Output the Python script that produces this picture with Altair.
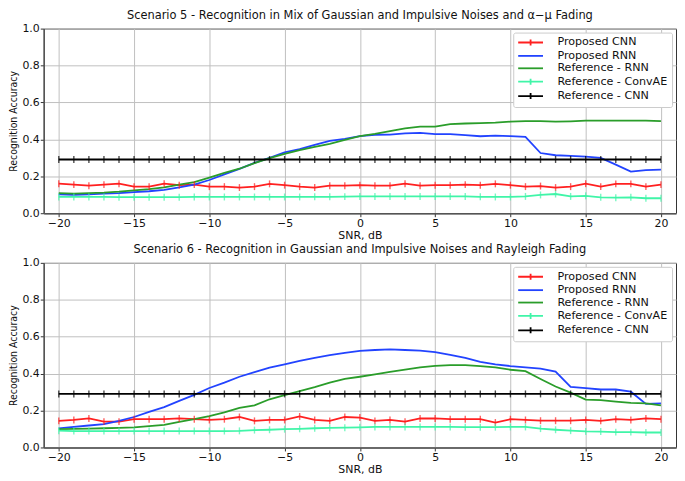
import altair as alt
import pandas as pd

snr = list(range(-20, 21))
series_names = ["Proposed CNN", "Proposed RNN", "Reference - RNN",
                "Reference - ConvAE", "Reference - CNN"]
series_colors = ["#ff2020", "#2243ff", "#2a9d2a", "#40f5a8", "#000000"]
marked_series = ["Proposed CNN", "Reference - ConvAE", "Reference - CNN"]
x_ticks = [-20, -15, -10, -5, 0, 5, 10, 15, 20]
y_ticks = [0.0, 0.2, 0.4, 0.6, 0.8, 1.0]

title5 = "Scenario 5 - Recognition in Mix of Gaussian and Impulsive Noises and \u03b1\u2212\u03bc Fading"
title6 = "Scenario 6 - Recognition in Gaussian and Impulsive Noises and Rayleigh Fading"

# Scenario 5
cnn5 = [0.160, 0.155, 0.149, 0.155, 0.160, 0.144, 0.144, 0.160, 0.152, 0.155,
        0.144, 0.144, 0.139, 0.144, 0.159, 0.152, 0.144, 0.139, 0.149, 0.149,
        0.152, 0.149, 0.149, 0.160, 0.149, 0.152, 0.152, 0.155, 0.152, 0.159,
        0.152, 0.144, 0.147, 0.139, 0.144, 0.160, 0.144, 0.159, 0.159, 0.144, 0.155]
rnn5 = [0.102, 0.099, 0.102, 0.106, 0.109, 0.114, 0.119, 0.127, 0.140, 0.155,
        0.180, 0.210, 0.240, 0.273, 0.300, 0.329, 0.347, 0.370, 0.392, 0.403,
        0.417, 0.425, 0.426, 0.433, 0.435, 0.428, 0.428, 0.423, 0.417, 0.420,
        0.417, 0.413, 0.326, 0.314, 0.311, 0.306, 0.300, 0.263, 0.225, 0.233, 0.236]
refrnn5 = [0.109, 0.106, 0.109, 0.112, 0.117, 0.124, 0.131, 0.140, 0.155, 0.169,
           0.193, 0.218, 0.241, 0.271, 0.298, 0.321, 0.342, 0.359, 0.375, 0.397,
           0.417, 0.430, 0.445, 0.460, 0.469, 0.469, 0.483, 0.486, 0.488, 0.491,
           0.496, 0.499, 0.499, 0.496, 0.498, 0.501, 0.501, 0.502, 0.502, 0.501, 0.499]
convae5 = [0.088, 0.088, 0.088, 0.088, 0.087, 0.087, 0.087, 0.087, 0.087, 0.088,
           0.088, 0.088, 0.088, 0.088, 0.088, 0.088, 0.088, 0.089, 0.089, 0.090,
           0.091, 0.091, 0.091, 0.091, 0.091, 0.091, 0.091, 0.091, 0.089, 0.088,
           0.088, 0.091, 0.099, 0.104, 0.091, 0.094, 0.086, 0.084, 0.086, 0.081, 0.081]
refcnn5 = [0.291] * 41

# Scenario 6
cnn6 = [0.144, 0.149, 0.157, 0.140, 0.140, 0.153, 0.153, 0.153, 0.157, 0.153,
        0.149, 0.153, 0.165, 0.144, 0.149, 0.149, 0.168, 0.149, 0.144, 0.165,
        0.162, 0.144, 0.149, 0.140, 0.157, 0.157, 0.153, 0.153, 0.153, 0.135,
        0.153, 0.149, 0.145, 0.145, 0.145, 0.149, 0.144, 0.153, 0.149, 0.157, 0.153]
rnn6 = [0.104, 0.111, 0.119, 0.127, 0.144, 0.165, 0.193, 0.219, 0.252, 0.285,
        0.322, 0.351, 0.383, 0.408, 0.432, 0.450, 0.469, 0.485, 0.500, 0.512,
        0.523, 0.528, 0.531, 0.528, 0.525, 0.517, 0.502, 0.485, 0.464, 0.450,
        0.441, 0.434, 0.427, 0.411, 0.328, 0.322, 0.314, 0.314, 0.302, 0.236, 0.239]
refrnn6 = [0.099, 0.101, 0.102, 0.104, 0.106, 0.109, 0.116, 0.122, 0.139, 0.153,
           0.170, 0.190, 0.215, 0.228, 0.261, 0.284, 0.305, 0.327, 0.351, 0.371,
           0.383, 0.396, 0.409, 0.422, 0.434, 0.442, 0.446, 0.446, 0.441, 0.434,
           0.421, 0.413, 0.371, 0.330, 0.297, 0.259, 0.256, 0.248, 0.241, 0.239, 0.228]
convae6 = [0.091, 0.089, 0.089, 0.089, 0.089, 0.089, 0.089, 0.089, 0.089, 0.089,
           0.089, 0.089, 0.090, 0.094, 0.096, 0.099, 0.101, 0.104, 0.106, 0.107,
           0.109, 0.111, 0.111, 0.111, 0.111, 0.111, 0.111, 0.110, 0.110, 0.110,
           0.111, 0.111, 0.102, 0.096, 0.091, 0.087, 0.086, 0.083, 0.083, 0.081, 0.081]
refcnn6 = [0.290] * 41

FONT = "DejaVu Sans"
W, H = 637, 186

LINE_TICK = "M-2.5,0H2.5M0,-0.6V0.6"
LINE_ONLY = "M-2.5,0H2.5"
legend_shapes = [LINE_TICK if n in marked_series else LINE_ONLY for n in series_names]


def panel(title, values):
    rows = []
    for k, (name, vals) in enumerate(zip(series_names, values)):
        for s, v in zip(snr, vals):
            rows.append({"snr": s, "acc": v, "series": name, "k": k})
    df = pd.DataFrame(rows)

    x = alt.X("snr:Q", scale=alt.Scale(domain=[-21, 21], nice=False, zero=False),
              axis=alt.Axis(values=x_ticks, title="SNR, dB", format="d"))
    y = alt.Y("acc:Q", scale=alt.Scale(domain=[0, 1], nice=False),
              axis=alt.Axis(values=y_ticks, format=".1f", title="Recognition Accuracy",
                            titleFont="Liberation Sans Narrow, DejaVu Sans Condensed, DejaVu Sans",
                            titleFontSize=10.5, titlePadding=3))
    legend = alt.Legend(
        title=None, orient="top-right", offset=4, padding=4,
        strokeColor="#cccccc", fillColor="white", cornerRadius=2,
        labelFont=FONT, labelFontSize=11.2, labelColor="#111111",
        symbolSize=100, symbolStrokeWidth=1.8, symbolOffset=7.5, labelOffset=21,
        rowPadding=0.5, symbolOpacity=1,
    )
    cscale = alt.Scale(domain=series_names, range=series_colors)
    sscale = alt.Scale(domain=series_names, range=legend_shapes)
    base = alt.Chart(df)
    lines = base.mark_line(strokeWidth=1.8).encode(
        x=x, y=y,
        color=alt.Color("series:N", scale=cscale, legend=legend),
        order="snr:Q",
    )
    ticks = base.transform_filter(
        alt.FieldOneOfPredicate(field="series", oneOf=marked_series)
    ).mark_tick(orient="vertical", size=7, thickness=1.4).encode(
        x=x, y=y,
        color=alt.Color("series:N", scale=cscale, legend=None),
    )
    carrier = base.mark_point(opacity=0, filled=False, size=100).encode(
        x=x, y=y,
        color=alt.Color("series:N", scale=cscale, legend=legend),
        shape=alt.Shape("series:N", scale=sscale, legend=legend),
    )
    return alt.layer(lines, ticks, carrier).properties(
        width=W, height=H,
        title=alt.Title(title, font=FONT, fontSize=11.5, fontWeight="normal",
                        color="#111111", offset=1),
    )


top = panel(title5, [cnn5, rnn5, refrnn5, convae5, refcnn5])
bottom = panel(title6, [cnn6, rnn6, refrnn6, convae6, refcnn6])

chart = alt.vconcat(top, bottom, spacing=3).resolve_scale(
    color="independent", shape="independent"
).properties(
    padding={"left": 0, "top": 0, "right": 0, "bottom": 0}
).configure_view(
    stroke="#333333", strokeWidth=1
).configure_axis(
    labelFont=FONT, labelFontSize=11, labelColor="#111111",
    titleFont=FONT, titleFontSize=11, titleFontWeight="normal", titleColor="#111111",
    gridColor="#c0c0c0", gridWidth=1, domainColor="#555555", domainWidth=1.5,
    tickColor="#333333", tickSize=3.5, labelPadding=1, titlePadding=1,
)

chart.save("out.html", embed_options={"renderer": "svg", "actions": False})
